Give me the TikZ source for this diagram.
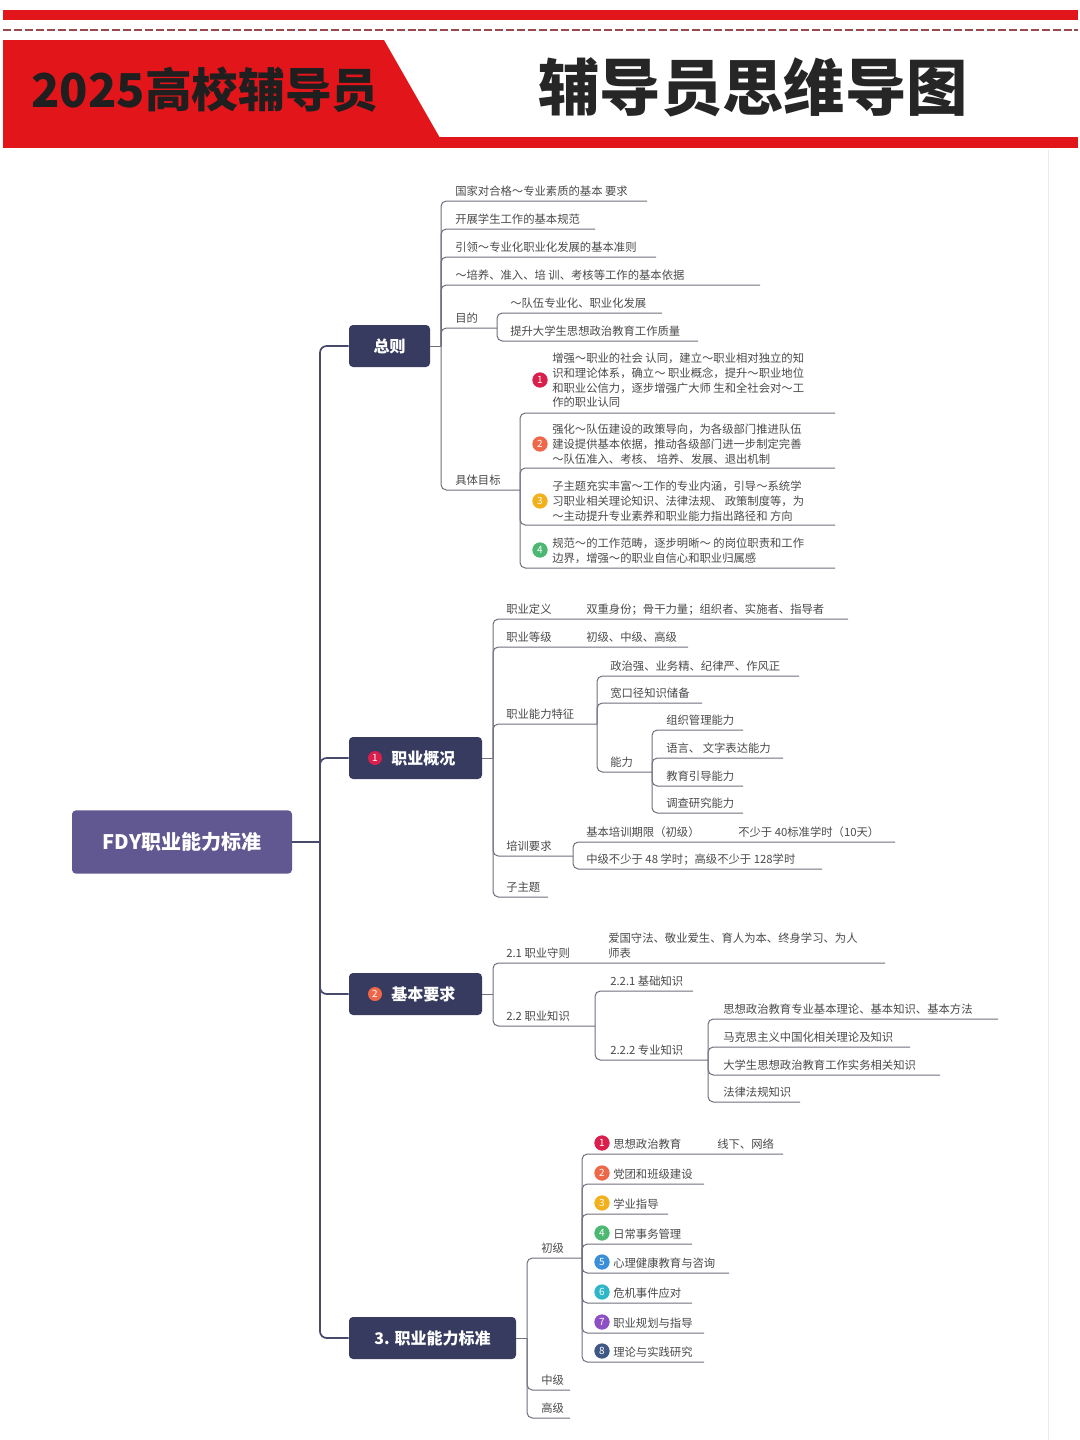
\documentclass[tikz,border=0pt]{standalone}
\usepackage{fontspec}
\setmainfont{Noto Sans CJK SC}
\usetikzlibrary{calc}
\definecolor{hred}{HTML}{E2151B}
\definecolor{dashc}{HTML}{9A4A4E}
\definecolor{navy}{HTML}{363B5F}
\definecolor{rootc}{HTML}{615891}
\definecolor{linec}{HTML}{70707F}
\definecolor{trunkc}{HTML}{474A68}
\definecolor{txtc}{HTML}{4A4A4A}
\definecolor{bA}{HTML}{D91F4C}
\definecolor{bB}{HTML}{EE6749}
\definecolor{bC}{HTML}{F1B01C}
\definecolor{bD}{HTML}{4DB872}
\definecolor{bE}{HTML}{3B8FD8}
\definecolor{bF}{HTML}{2FB7C8}
\definecolor{bG}{HTML}{8C4FC4}
\definecolor{bH}{HTML}{3F5886}
\tikzset{
  txt/.style={font=\fontsize{8.5}{11}\selectfont, text=txtc, inner sep=0pt, anchor=base west},
  mtxt/.style={font=\fontsize{8.5}{11}\selectfont, text=txtc, inner sep=0pt, anchor=north west, align=left},
  br/.style={draw=linec, line width=0.75pt, rounded corners=4pt},
  trunk/.style={draw=trunkc, line width=1.3pt, rounded corners=5pt},
  lvl/.style={fill=navy, rounded corners=3pt, inner sep=0pt},
  lvltxt/.style={text=white, font=\bfseries\fontsize{12}{14}\selectfont, inner sep=0pt},
  badge/.style={circle, inner sep=0pt, minimum size=11.5pt, text=white, font=\fontsize{7.5}{7.5}\selectfont},
}
\newcommand\mmleaf[6]{%
  \coordinate (#1e) at (#5,#4);
  \node[txt] (#1) at (#3,#4-6) {#6};
  \draw[br] (#2) |- (#1e);
}
\begin{document}
\begin{tikzpicture}[x=0.75pt,y=-0.75pt]
\useasboundingbox (0,0) rectangle (1080,1440);
\fill[white] (0,0) rectangle (1080,1440);

% ---------- header ----------
\fill[hred] (3,10) rectangle (1078,20);
\draw[dashc, line width=2.2pt, dash pattern=on 6pt off 2.2pt] (3,30) -- (1078,30);
\fill[hred] (3,40) -- (384,40) -- (440,138) -- (3,138) -- cycle;
\fill[hred] (3,137) rectangle (1078,148);
\node[font=\bfseries\fontsize{35}{40}\selectfont, text=black!88, inner sep=0pt] (ht1) at (205,90) {2025高校辅导员};
\node[font=\bfseries\fontsize{46}{50}\selectfont, text=black!85, inner sep=0pt] (ht2) at (753,87) {辅导员思维导图};
\draw[black!8, line width=0.6pt] (1048,150) -- (1048,1440);

% ---------- root and level 1 ----------
\node[fill=rootc, rounded corners=3pt, minimum width=165pt, minimum height=47.5pt, inner sep=0pt,
      text=white, font=\bfseries\fontsize{15}{18}\selectfont] (root) at (182,842) {FDY职业能力标准};
\node[lvl, minimum width=60.75pt, minimum height=31.5pt] (b0) at (389.5,346) {};
\node[lvltxt] (b0t) at (389.5,346) {总则};
\node[lvl, minimum width=99.75pt, minimum height=31.5pt] (b1) at (415.5,758) {};
\node[badge, fill=bA, minimum size=10.5pt] (b1n) at (375,758) {1};
\node[lvltxt, anchor=west] (b1t) at (391,758) {职业概况};
\node[lvl, minimum width=99.75pt, minimum height=31.5pt] (b2) at (415.5,994) {};
\node[badge, fill=bB, minimum size=10.5pt] (b2n) at (375,994) {2};
\node[lvltxt, anchor=west] (b2t) at (391,994) {基本要求};
\node[lvl, minimum width=125.25pt, minimum height=31.5pt] (b3) at (432.5,1338) {};
\node[lvltxt] (b3t) at (432.5,1338) {3. 职业能力标准};

\coordinate (mt) at (320,842);
\draw[trunk] (root.east) -- (mt);
\draw[trunk] (mt) |- (b0.west);
\draw[trunk] (mt) |- (b1.west);
\draw[trunk] (mt) |- (b2.west);
\draw[trunk] (mt) |- (b3.west);

% ---------- 总则 ----------
\coordinate (zj) at (441,346);
\draw[br] (b0.east) -- (zj);
\mmleaf{z1}{zj}{455}{201}{647}{国家对合格～专业素质的基本 要求}
\mmleaf{z2}{zj}{455}{229}{595}{开展学生工作的基本规范}
\mmleaf{z3}{zj}{455}{257}{656}{引领～专业化职业化发展的基本准则}
\mmleaf{z4}{zj}{455}{285}{760}{～培养、准入、培 训、考核等工作的基本依据}
\mmleaf{z5}{zj}{455}{328}{497}{目的}
\mmleaf{z51}{z5e}{510}{313}{662}{～队伍专业化、职业化发展}
\mmleaf{z52}{z5e}{510}{341}{698}{提升大学生思想政治教育工作质量}
\mmleaf{z6}{zj}{455}{490}{520}{具体目标}

\coordinate (i1e) at (835,413);
\coordinate (i2e) at (835,468);
\coordinate (i3e) at (835,525);
\coordinate (i4e) at (835,568);
\draw[br] (z6e) |- (i1e);
\draw[br] (z6e) |- (i2e);
\draw[br] (z6e) |- (i3e);
\draw[br] (z6e) |- (i4e);
\node[badge, fill=bA] (i1b) at (540,380) {1};
\node[badge, fill=bB] (i2b) at (540,444) {2};
\node[badge, fill=bC] (i3b) at (540,501) {3};
\node[badge, fill=bD] (i4b) at (540,550) {4};
\node[mtxt] (i1) at (552,353) {增强～职业的社会 认同，建立～职业相对独立的知\\识和理论体系，确立～ 职业概念，提升～职业地位\\和职业公信力，逐步增强广大师 生和全社会对～工\\作的职业认同};
\node[mtxt] (i2) at (552,424) {强化～队伍建设的政策导向，为各级部门推进队伍\\建设提供基本依据，推动各级部门进一步制定完善\\～队伍准入、考核、 培养、发展、退出机制};
\node[mtxt] (i3) at (552,481) {子主题充实丰富～工作的专业内涵，引导～系统学\\习职业相关理论知识、法律法规、 政策制度等，为\\～主动提升专业素养和职业能力指出路径和 方向};
\node[mtxt] (i4) at (552,538) {规范～的工作范畴，逐步明晰～ 的岗位职责和工作\\边界，增强～的职业自信心和职业归属感};

% ---------- 职业概况 ----------
\coordinate (pj) at (493,758);
\draw[br] (b1.east) -- (pj);
\mmleaf{p1}{pj}{506}{619}{848}{职业定义}
\node[txt] (p1x) at (586,613) {双重身份；骨干力量；组织者、实施者、指导者};
\mmleaf{p2}{pj}{506}{647}{688}{职业等级}
\node[txt] (p2x) at (586,641) {初级、中级、高级};
\mmleaf{p3}{pj}{506}{724}{597}{职业能力特征}
\mmleaf{p31}{p3e}{610}{676}{799}{政治强、业务精、纪律严、作风正}
\mmleaf{p32}{p3e}{610}{703}{702}{宽口径知识储备}
\mmleaf{p33}{p3e}{610}{772}{652}{能力}
\mmleaf{p331}{p33e}{666}{730}{743}{组织管理能力}
\mmleaf{p332}{p33e}{666}{758}{783}{语言、 文字表达能力}
\mmleaf{p333}{p33e}{666}{786}{743}{教育引导能力}
\mmleaf{p334}{p33e}{666}{813}{743}{调查研究能力}
\mmleaf{p4}{pj}{506}{856}{573}{培训要求}
\mmleaf{p41}{p4e}{586}{842}{895}{基本培训期限（初级）}
\node[txt] (p41x) at (738,836) {不少于 40标准学时（10天）};
\mmleaf{p42}{p4e}{586}{869}{822}{中级不少于 48 学时；高级不少于 128学时}
\mmleaf{p5}{pj}{506}{897}{548}{子主题}

% ---------- 基本要求 ----------
\coordinate (qj) at (493,994);
\draw[br] (b2.east) -- (qj);
\mmleaf{q1}{qj}{506}{963}{885}{2.1 职业守则}
\node[mtxt] (q1x) at (608,933) {爱国守法、敬业爱生、育人为本、终身学习、为人\\师表};
\mmleaf{q2}{qj}{506}{1026}{595}{2.2 职业知识}
\mmleaf{q21}{q2e}{610}{991}{693}{2.2.1 基础知识}
\mmleaf{q22}{q2e}{610}{1060}{708}{2.2.2 专业知识}
\mmleaf{q221}{q22e}{723}{1019}{998}{思想政治教育专业基本理论、基本知识、基本方法}
\mmleaf{q222}{q22e}{723}{1047}{910}{马克思主义中国化相关理论及知识}
\mmleaf{q223}{q22e}{723}{1075}{940}{大学生思想政治教育工作实务相关知识}
\mmleaf{q224}{q22e}{723}{1102}{800}{法律法规知识}

% ---------- 职业能力标准 ----------
\coordinate (rj) at (527,1338);
\draw[br] (b3.east) -- (rj);
\mmleaf{r1}{rj}{541}{1258}{582}{初级}
\mmleaf{r11}{r1e}{613}{1154}{783}{思想政治教育}
\node[txt] (r11x) at (717,1148) {线下、网络};
\mmleaf{r12}{r1e}{613}{1184}{704}{党团和班级建设}
\mmleaf{r13}{r1e}{613}{1214}{668}{学业指导}
\mmleaf{r14}{r1e}{613}{1244}{692}{日常事务管理}
\mmleaf{r15}{r1e}{613}{1273}{729}{心理健康教育与咨询}
\mmleaf{r16}{r1e}{613}{1303}{692}{危机事件应对}
\mmleaf{r17}{r1e}{613}{1333}{704}{职业规划与指导}
\mmleaf{r18}{r1e}{613}{1362}{704}{理论与实践研究}
\node[badge, fill=bA] (r11b) at (602,1143) {1};
\node[badge, fill=bB] (r12b) at (602,1173) {2};
\node[badge, fill=bC] (r13b) at (602,1203) {3};
\node[badge, fill=bD] (r14b) at (602,1233) {4};
\node[badge, fill=bE] (r15b) at (602,1262) {5};
\node[badge, fill=bF] (r16b) at (602,1292) {6};
\node[badge, fill=bG] (r17b) at (602,1322) {7};
\node[badge, fill=bH] (r18b) at (602,1351) {8};
\mmleaf{r2}{rj}{541}{1390}{570}{中级}
\mmleaf{r3}{rj}{541}{1418}{570}{高级}
\end{tikzpicture}
\end{document}
